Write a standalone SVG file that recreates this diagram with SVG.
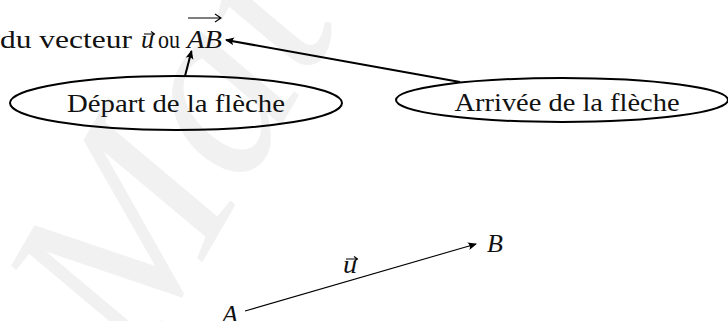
<svg xmlns="http://www.w3.org/2000/svg" width="728" height="321" viewBox="0 0 728 321">
<style>
  text { font-family: "Liberation Serif", "Times New Roman", serif; font-size: 26px; fill: #111; }
  .it { font-style: italic; }
  .wm { font-family: "Liberation Serif", serif; font-style: italic; font-size: 250px; fill: #f1f1f1; }
  .node { fill: none; stroke: #000; stroke-width: 2; }
  .thick { stroke: #000; stroke-width: 2; fill: none; }
  .thin { stroke: #000; stroke-width: 1.1; fill: none; }
  .acc { stroke: #000; stroke-width: 1.1; fill: none; }
</style>
<defs>
  <marker id="ah" markerUnits="userSpaceOnUse" markerWidth="16" markerHeight="12" refX="0" refY="0" viewBox="-10 -6 12 12" orient="auto" overflow="visible">
    <path d="M1,0 L-8,-4 Q-5,0 -8,4 Z" fill="#000"/>
  </marker>
</defs>
<rect width="728" height="321" fill="#fff"/>
<text class="wm" transform="translate(140,370) rotate(-60)">Mat</text>

<g id="label-top">
  <text x="0" y="48" textLength="132" lengthAdjust="spacingAndGlyphs">du vecteur</text>
  <text class="it" x="141" y="48" textLength="13" lengthAdjust="spacingAndGlyphs">u</text>
  <path class="acc" d="M144,34 H154 M151,31.5 L154.5,34 L151,36.5"/>
  <text x="158" y="48" textLength="22" lengthAdjust="spacingAndGlyphs">ou</text>
  <text class="it" x="187" y="48" textLength="35" lengthAdjust="spacingAndGlyphs">AB</text>
  <path class="acc" d="M188,18 H220 M215,14 L221,18 L215,22"/>
</g>

<g id="depart">
  <ellipse class="node" cx="176" cy="103" rx="166" ry="27"/>
  <text x="176" y="112" text-anchor="middle" textLength="218" lengthAdjust="spacingAndGlyphs">Départ de la flèche</text>
</g>

<g id="arrivee">
  <ellipse class="node" cx="562" cy="100" rx="166" ry="22"/>
  <text x="567" y="111" text-anchor="middle" textLength="225" lengthAdjust="spacingAndGlyphs">Arrivée de la flèche</text>
</g>

<g id="point-A"><text class="it" x="222" y="323">A</text></g>
<g id="point-B"><text class="it" x="487" y="252">B</text></g>
<g id="label-u">
  <text class="it" x="343" y="273" textLength="14" lengthAdjust="spacingAndGlyphs">u</text>
  <path class="acc" d="M346,259 H357 M354,256.5 L357.5,259 L354,261.5"/>
</g>

<g id="connectors">
  <line class="thick" x1="185" y1="76" x2="191.5" y2="51" marker-end="url(#ah)"/>
  <line class="thick" x1="460" y1="82" x2="226" y2="40" marker-end="url(#ah)"/>
  <line class="thin" x1="245" y1="311" x2="476" y2="244" marker-end="url(#ah)"/>
</g>
</svg>
